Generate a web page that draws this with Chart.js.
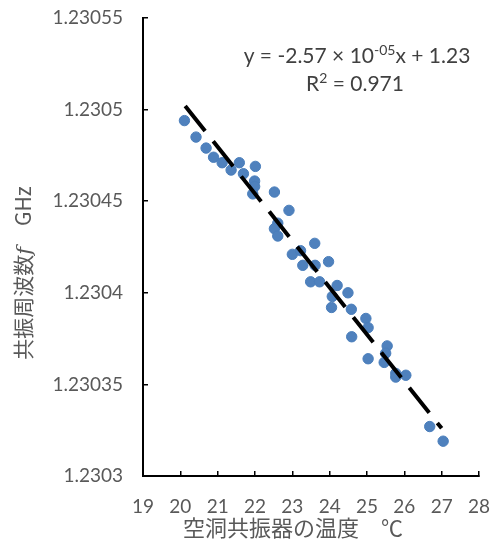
<!DOCTYPE html>
<html>
<head>
<meta charset="utf-8">
<script src="https://cdn.jsdelivr.net/npm/chart.js@4/dist/chart.umd.min.js"></script>
<style>
  body { margin: 0; background: #fff; }
  #chart { display: block; }
</style>
</head>
<body>
<canvas id="chart" width="493" height="546"></canvas>
<script>
// measured points: cavity temperature (C) vs resonance frequency (GHz)
const tempC = [20.11, 20.42, 20.69, 20.89, 21.12, 21.36, 21.58, 21.69, 22.01, 21.99,
  21.99, 21.94, 22.52, 22.91, 22.61, 22.52, 22.61, 23.00, 23.22, 23.60,
  23.28, 23.61, 23.97, 23.49, 23.73, 24.20, 24.49, 24.07, 24.05, 24.58,
  24.97, 25.03, 24.59, 25.54, 25.50, 25.03, 25.46, 25.77, 26.04, 25.77,
  26.68, 27.04];
const freqGHz = [1.230494, 1.230485, 1.230479, 1.230474, 1.230471, 1.230467, 1.230471, 1.230465, 1.230469, 1.230461,
  1.230458, 1.230454, 1.230455, 1.230445, 1.230438, 1.230435, 1.230431, 1.230421, 1.230423, 1.230427,
  1.230415, 1.230415, 1.230417, 1.230406, 1.230406, 1.230404, 1.230400, 1.230398, 1.230392, 1.230391,
  1.230386, 1.230381, 1.230376, 1.230371, 1.230367, 1.230364, 1.230362, 1.230356, 1.230355, 1.230354,
  1.230327, 1.230319];

// linear trendline ends
const trendX = [20.13, 27.0];
const trendY = [1.230502, 1.230326];

const xTicks = [19, 20, 21, 22, 23, 24, 25, 26, 27, 28];
const yTicks = [1.2303, 1.23035, 1.2304, 1.23045, 1.2305, 1.23055];

const xTitle = '空洞共振器の温度\u3000℃';
const yTitleParts = ['共振周波数', 'f', '\u3000GHz'];
const equation = ['y = -2.57 × 10', '-05', 'x + 1.23'];
const rSquared = ['R', '2', ' = 0.971'];

const tickFont = { family: 'Lato', size: 19 };
const cjkFont = '"Noto Sans CJK JP", "Noto Sans", sans-serif';

// axis titles and the trendline label
const labelsPlugin = {
    id: 'labels',
    afterDraw(chart) {
        const ctx = chart.ctx;
        ctx.save();
        ctx.fillStyle = '#595959';
        ctx.textBaseline = 'alphabetic';

        // x title
        ctx.font = '22px ' + cjkFont;
        ctx.textAlign = 'center';
        ctx.fillText(xTitle, 293, 536);

        // y title, rotated, f in italics
        ctx.translate(31, 273);
        ctx.rotate(-Math.PI / 2);
        const fonts = ['21px ' + cjkFont, 'italic 21px "DejaVu Serif", serif', '21px ' + cjkFont];
        let total = 0;
        yTitleParts.forEach((t, i) => { ctx.font = fonts[i]; total += ctx.measureText(t).width; });
        let x = -total / 2;
        ctx.textAlign = 'left';
        yTitleParts.forEach((t, i) => {
            ctx.font = fonts[i];
            ctx.fillText(t, x, 0);
            x += ctx.measureText(t).width;
        });
        ctx.restore();

        // equation and R squared
        ctx.save();
        ctx.fillStyle = '#404040';
        ctx.textAlign = 'left';
        drawSup(ctx, equation, 357, 63);
        drawSup(ctx, rSquared, 355, 91);
        ctx.restore();
    }
};

function drawSup(ctx, parts, cx, baseline) {
    const big = '21px Lato';
    const small = '14px Lato';
    const fontsFor = [big, small, big];
    let total = 0;
    parts.forEach((t, i) => { ctx.font = fontsFor[i]; total += ctx.measureText(t).width; });
    let x = cx - total / 2;
    parts.forEach((t, i) => {
        ctx.font = fontsFor[i];
        ctx.fillText(t, x, i === 1 ? baseline - 8 : baseline);
        x += ctx.measureText(t).width;
    });
}

function fmt(v) {
    return parseFloat(v.toFixed(6)).toString();
}

const ctx = document.getElementById('chart');
new Chart(ctx, {
    type: 'scatter',
    data: {
        datasets: [
            {
                type: 'line',
                label: 'trend',
                data: trendX.map((x, i) => ({ x, y: trendY[i] })),
                borderColor: '#000000',
                borderWidth: 4,
                borderDash: [32, 13],
                pointRadius: 0,
                fill: false,
                order: 0
            },
            {
                label: 'data',
                data: tempC.map((x, i) => ({ x, y: freqGHz[i] })),
                backgroundColor: '#4F81BD',
                borderColor: '#4A7EBB',
                borderWidth: 1,
                pointRadius: 5.2,
                order: 1
            }
        ]
    },
    options: {
        responsive: false,
        animation: false,
        layout: { padding: { top: 18, right: 14, left: 0, bottom: 0 } },
        plugins: {
            legend: { display: false },
            tooltip: { enabled: false }
        },
        scales: {
            x: {
                type: 'linear',
                min: 19,
                max: 28,
                afterBuildTicks: s => { s.ticks = xTicks.map(v => ({ value: v })); },
                afterFit: s => { s.height = 70; s.paddingLeft = 0; s.paddingRight = 0; },
                grid: { drawOnChartArea: false, drawTicks: true, tickLength: -5, color: '#000', lineWidth: 1.5 },
                border: { display: true, color: '#000', width: 2 },
                ticks: { font: tickFont, color: '#595959', padding: 24, maxRotation: 0 }
            },
            y: {
                type: 'linear',
                min: 1.2303,
                max: 1.23055,
                afterBuildTicks: s => { s.ticks = yTicks.map(v => ({ value: v })); },
                afterFit: s => { s.width = 143; s.paddingTop = 0; s.paddingBottom = 0; },
                grid: { drawOnChartArea: false, drawTicks: true, tickLength: -5, color: '#000', lineWidth: 1.5 },
                border: { display: true, color: '#000', width: 2 },
                ticks: { font: tickFont, color: '#595959', padding: 25, callback: v => fmt(v) }
            }
        }
    },
    plugins: [labelsPlugin]
});
</script>
</body>
</html>
